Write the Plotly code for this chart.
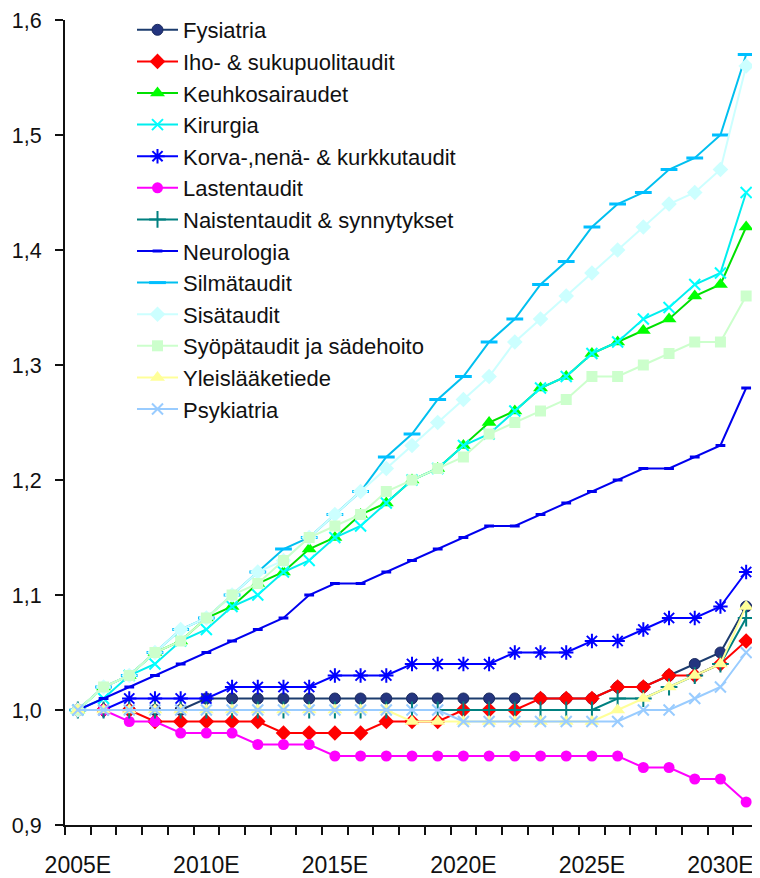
import plotly.graph_objects as go

years = ["2005E", "2006E", "2007E", "2008E", "2009E", "2010E", "2011E", "2012E", "2013E",
         "2014E", "2015E", "2016E", "2017E", "2018E", "2019E", "2020E", "2021E", "2022E",
         "2023E", "2024E", "2025E", "2026E", "2027E", "2028E", "2029E", "2030E", "2031E"]
tick_labels = ["2005E", "", "", "", "", "2010E", "", "", "", "", "2015E", "", "", "", "",
               "2020E", "", "", "", "", "2025E", "", "", "", "", "2030E", ""]
y_ticks = [0.9, 1.0, 1.1, 1.2, 1.3, 1.4, 1.5, 1.6]

fysiatria = [1.00, 1.00, 1.00, 1.00, 1.00, 1.01, 1.01, 1.01, 1.01, 1.01, 1.01, 1.01, 1.01, 1.01,
             1.01, 1.01, 1.01, 1.01, 1.01, 1.01, 1.01, 1.02, 1.02, 1.03, 1.04, 1.05, 1.09]
iho = [1.00, 1.00, 1.00, 0.99, 0.99, 0.99, 0.99, 0.99, 0.98, 0.98, 0.98, 0.98, 0.99, 0.99,
       0.99, 1.00, 1.00, 1.00, 1.01, 1.01, 1.01, 1.02, 1.02, 1.03, 1.03, 1.04, 1.06]
keuhko = [1.00, 1.02, 1.03, 1.05, 1.06, 1.08, 1.09, 1.11, 1.12, 1.14, 1.15, 1.17, 1.18, 1.20,
          1.21, 1.23, 1.25, 1.26, 1.28, 1.29, 1.31, 1.32, 1.33, 1.34, 1.36, 1.37, 1.42]
kirurgia = [1.00, 1.01, 1.03, 1.04, 1.06, 1.07, 1.09, 1.10, 1.12, 1.13, 1.15, 1.16, 1.18, 1.20,
            1.21, 1.23, 1.24, 1.26, 1.28, 1.29, 1.31, 1.32, 1.34, 1.35, 1.37, 1.38, 1.45]
korva = [1.00, 1.00, 1.01, 1.01, 1.01, 1.01, 1.02, 1.02, 1.02, 1.02, 1.03, 1.03, 1.03, 1.04,
         1.04, 1.04, 1.04, 1.05, 1.05, 1.05, 1.06, 1.06, 1.07, 1.08, 1.08, 1.09, 1.12]
lasten = [1.00, 1.00, 0.99, 0.99, 0.98, 0.98, 0.98, 0.97, 0.97, 0.97, 0.96, 0.96, 0.96, 0.96,
          0.96, 0.96, 0.96, 0.96, 0.96, 0.96, 0.96, 0.96, 0.95, 0.95, 0.94, 0.94, 0.92]
naisten = [1.00, 1.00, 1.00, 1.00, 1.00, 1.00, 1.00, 1.00, 1.00, 1.00, 1.00, 1.00, 1.00, 1.00,
           1.00, 1.00, 1.00, 1.00, 1.00, 1.00, 1.00, 1.01, 1.01, 1.02, 1.03, 1.04, 1.08]
neurologia = [1.00, 1.01, 1.02, 1.03, 1.04, 1.05, 1.06, 1.07, 1.08, 1.10, 1.11, 1.11, 1.12, 1.13,
              1.14, 1.15, 1.16, 1.16, 1.17, 1.18, 1.19, 1.20, 1.21, 1.21, 1.22, 1.23, 1.28]
silma = [1.00, 1.02, 1.03, 1.05, 1.07, 1.08, 1.10, 1.12, 1.14, 1.15, 1.17, 1.19, 1.22, 1.24,
         1.27, 1.29, 1.32, 1.34, 1.37, 1.39, 1.42, 1.44, 1.45, 1.47, 1.48, 1.50, 1.57]
sisa = [1.00, 1.02, 1.03, 1.05, 1.07, 1.08, 1.10, 1.12, 1.13, 1.15, 1.17, 1.19, 1.21, 1.23,
        1.25, 1.27, 1.29, 1.32, 1.34, 1.36, 1.38, 1.40, 1.42, 1.44, 1.45, 1.47, 1.56]
syopa = [1.00, 1.02, 1.03, 1.05, 1.06, 1.08, 1.10, 1.11, 1.13, 1.15, 1.16, 1.17, 1.19, 1.20,
         1.21, 1.22, 1.24, 1.25, 1.26, 1.27, 1.29, 1.29, 1.30, 1.31, 1.32, 1.32, 1.36]
yleis = [1.00, 1.00, 1.00, 1.00, 1.00, 1.00, 1.00, 1.00, 1.00, 1.00, 1.00, 1.00, 1.00, 0.99,
         0.99, 0.99, 0.99, 0.99, 0.99, 0.99, 0.99, 1.00, 1.01, 1.02, 1.03, 1.04, 1.09]
psyk = [1.00, 1.00, 1.00, 1.00, 1.00, 1.00, 1.00, 1.00, 1.00, 1.00, 1.00, 1.00, 1.00, 1.00,
        1.00, 0.99, 0.99, 0.99, 0.99, 0.99, 0.99, 0.99, 1.00, 1.00, 1.01, 1.02, 1.05]

# name, values, line colour, marker symbol, marker fill, marker outline, size, outline width
series = [
    ("Fysiatria", fysiatria, "#1C3C6E", "circle", "#24357F", "#1A2A5E", 11, 1),
    ("Iho- & sukupuolitaudit", iho, "#FF0000", "diamond", "#FF0000", "#FF0000", 12, 0),
    ("Keuhkosairaudet", keuhko, "#00E000", "triangle-up", "#00FF00", "#00E000", 13, 0),
    ("Kirurgia", kirurgia, "#00EEEE", "x-thin-open", "#00FFFF", "#00FFFF", 11, 2),
    ("Korva-,nenä- & kurkkutaudit", korva, "#0000FF", "asterisk-open", "#0000FF", "#0000FF", 12, 2),
    ("Lastentaudit", lasten, "#FF00FF", "circle", "#FF00FF", "#FF00FF", 11, 0),
    ("Naistentaudit & synnytykset", naisten, "#008080", "cross-thin-open", "#008080", "#008080", 12, 2),
    ("Neurologia", neurologia, "#0000EE", "line-ew-open", "#0000EE", "#0000EE", 7, 3),
    ("Silmätaudit", silma, "#00BFEF", "line-ew-open", "#00BFFF", "#00BFFF", 12, 3),
    ("Sisätaudit", sisa, "#CCFFFF", "diamond", "#CCFFFF", "#CCFFFF", 12, 0),
    ("Syöpätaudit ja sädehoito", syopa, "#CCFFCC", "square", "#CCFFCC", "#CCFFCC", 11, 0),
    ("Yleislääketiede", yleis, "#FFFF99", "triangle-up", "#FFFF99", "#FFFF99", 13, 0),
    ("Psykiatria", psyk, "#99CCFF", "x-thin-open", "#99CCFF", "#99CCFF", 11, 2),
]

fig = go.Figure()
for name, vals, lc, sym, mfill, mline, size, mlw in series:
    fig.add_trace(go.Scatter(
        x=years, y=vals, name=name, mode="lines+markers",
        line=dict(color=lc, width=2),
        marker=dict(symbol=sym, size=size, color=mfill,
                    line=dict(color=mline, width=mlw)),
    ))

# the page adds an 8px body margin, so the figure is 8px smaller on each axis
W, H = 752, 870
ML, MR, MT, MB = 57, 1, 12, 53
plot_w = W - ML - MR
plot_h = H - MT - MB

fig.update_layout(
    width=W, height=H,
    margin=dict(l=ML, r=MR, t=MT, b=MB),
    paper_bgcolor="white", plot_bgcolor="white",
    separators=", ",
    font=dict(family="Liberation Sans, Arial, sans-serif", color="#111111", size=22),
    showlegend=True,
    legend=dict(
        x=(124 - ML) / plot_w, xanchor="left",
        y=1.0 + 11 / plot_h, yanchor="top",
        bgcolor="rgba(0,0,0,0)", borderwidth=0,
        itemwidth=41, tracegroupgap=0,
        font=dict(family="Liberation Sans, Arial, sans-serif", size=22, color="#111111"),
    ),
)
fig.update_xaxes(
    type="category", categoryorder="array", categoryarray=years,
    tickmode="array", tickvals=years, ticktext=tick_labels,
    tickson="boundaries", range=[-0.5, 26.5], tickangle=0,
    ticks="outside", ticklen=8, tickwidth=2, tickcolor="#111111",
    showline=True, linecolor="#111111", linewidth=2,
    showgrid=False, zeroline=False, automargin=False,
    ticklabelstandoff=18, ticklabeloverflow="allow",
    tickfont=dict(family="Liberation Sans, Arial, sans-serif", size=23, color="#111111"),
)
fig.update_yaxes(
    range=[0.9, 1.6], tickmode="array", tickvals=y_ticks, tickformat=".1f",
    ticks="outside", ticklen=8, tickwidth=2, tickcolor="#111111",
    showline=True, linecolor="#111111", linewidth=2,
    showgrid=False, zeroline=False, automargin=False,
    ticklabelstandoff=9, ticklabeloverflow="allow",
    tickfont=dict(family="Liberation Sans, Arial, sans-serif", size=21.5, color="#111111"),
)

fig.write_html("out.html")
